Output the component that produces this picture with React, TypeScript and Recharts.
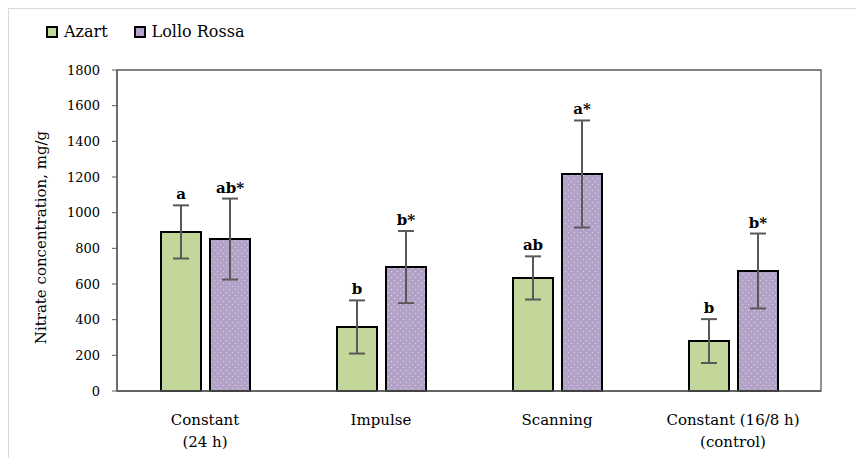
import React from 'react';
import { BarChart, Bar, XAxis, YAxis, ErrorBar, LabelList, Legend, ReferenceArea } from 'recharts';

const FONT = '"DejaVu Serif", serif';
const AXIS = '#595959';
const GREEN = '#c4d79b';
const PURPLE = '#b3a2c7';

// nitrate, mg/g
const categories = ['Constant\n(24 h)', 'Impulse', 'Scanning', 'Constant (16/8 h)\n(control)'];
const azart = [892, 359, 634, 280];
const azartErr = [149, 149, 121, 123];
const azartSig = ['a', 'b', 'ab', 'b'];
const lollo = [852, 695, 1217, 673];
const lolloErr = [227, 202, 300, 210];
const lolloSig = ['ab*', 'b*', 'a*', 'b*'];
const yTicks = [0, 200, 400, 600, 800, 1000, 1200, 1400, 1600, 1800];

const data = categories.map((name, i) => ({
  name,
  azart: azart[i],
  azartErr: azartErr[i],
  azartSig: azartSig[i],
  lollo: lollo[i],
  lolloErr: lolloErr[i],
  lolloSig: lolloSig[i],
}));

// letter sits just above the top of the error whisker
const sigLabel = (errs: number[], vals: number[]) => (props: any) => {
  const { x, y, width, height, value, index } = props;
  const errPx = (errs[index] / vals[index]) * height;
  return (
    <text x={x + width / 2} y={y - errPx - 6} textAnchor="middle" fontFamily={FONT} fontWeight="bold" fontSize={15} fill="#000">
      {value}
    </text>
  );
};

const CategoryTick = (props: any) => {
  const { x, y, payload } = props;
  const lines = String(payload.value).split('\n');
  return (
    <text textAnchor="middle" fontFamily={FONT} fontSize={15} fill="#000">
      {lines.map((l, i) => (
        <tspan key={i} x={x} y={y + 26 + i * 22}>{l}</tspan>
      ))}
    </text>
  );
};

const YLabel = (props: any) => {
  const { viewBox } = props;
  const cx = viewBox.x + 14;
  const cy = viewBox.y + viewBox.height / 2 + 7;
  return (
    <text x={cx} y={cy} transform={`rotate(-90 ${cx} ${cy})`} textAnchor="middle" dominantBaseline="central" fontFamily={FONT} fontSize={15} fill="#000">
      Nitrate concentration, mg/g
    </text>
  );
};

const Swatch = ({ fill }: { fill: string }) => (
  <svg width={12} height={12} style={{ display: 'block' }}>
    <rect x={1} y={1} width={10} height={10} fill={fill} stroke="#000" strokeWidth={2} />
  </svg>
);

const LegendContent = () => (
  <div style={{ display: 'flex', alignItems: 'center', fontFamily: FONT, fontSize: 16, lineHeight: '18px', color: '#000' }}>
    <Swatch fill={GREEN} />
    <span style={{ marginLeft: 6, marginRight: 26 }}>Azart</span>
    <Swatch fill="url(#dots)" />
    <span style={{ marginLeft: 6 }}>Lollo Rossa</span>
  </div>
);

export default function App() {
  return (
    <div style={{ width: 852, height: 450, border: '1px solid #d9d9d9', borderBottom: 'none', boxSizing: 'border-box', background: '#fff' }}>
      <BarChart width={850} height={449} data={data} margin={{ top: 61, right: 38, bottom: 7, left: 18 }} barCategoryGap="25%" barGap={9}>
        <defs>
          <pattern id="dots" width={6} height={6} patternUnits="userSpaceOnUse">
            <rect width={6} height={6} fill={PURPLE} />
            <circle cx={1.5} cy={1.5} r={0.6} fill="#e6def0" />
            <circle cx={4.5} cy={4.5} r={0.6} fill="#e6def0" />
          </pattern>
        </defs>
        <Legend verticalAlign="middle" align="center" wrapperStyle={{ top: 14, left: 37, width: 'auto' }} content={<LegendContent />} />
        <XAxis dataKey="name" height={60} tick={<CategoryTick />} tickLine={false} axisLine={{ stroke: AXIS, strokeWidth: 1.3 }} interval={0} />
        <YAxis
          width={90}
          domain={[0, 1800]}
          ticks={yTicks}
          interval={0}
          tickSize={5}
          tickMargin={12}
          tick={{ fontFamily: FONT, fontSize: 13, fill: '#000' }}
          tickLine={{ stroke: AXIS }}
          axisLine={{ stroke: AXIS, strokeWidth: 1.3 }}
          label={<YLabel />}
        />
        {/* plot frame */}
        <ReferenceArea y1={0} y2={1800} fill="none" fillOpacity={0} stroke={AXIS} strokeWidth={1.3} strokeOpacity={1} ifOverflow="visible" />
        <Bar dataKey="azart" fill={GREEN} stroke="#000" strokeWidth={2} isAnimationActive={false}>
          <ErrorBar dataKey="azartErr" width={8} stroke={AXIS} strokeWidth={2} direction="y" isAnimationActive={false} />
          <LabelList dataKey="azartSig" content={sigLabel(azartErr, azart)} />
        </Bar>
        <Bar dataKey="lollo" fill="url(#dots)" stroke="#000" strokeWidth={2} isAnimationActive={false}>
          <ErrorBar dataKey="lolloErr" width={8} stroke={AXIS} strokeWidth={2} direction="y" isAnimationActive={false} />
          <LabelList dataKey="lolloSig" content={sigLabel(lolloErr, lollo)} />
        </Bar>
      </BarChart>
    </div>
  );
}
